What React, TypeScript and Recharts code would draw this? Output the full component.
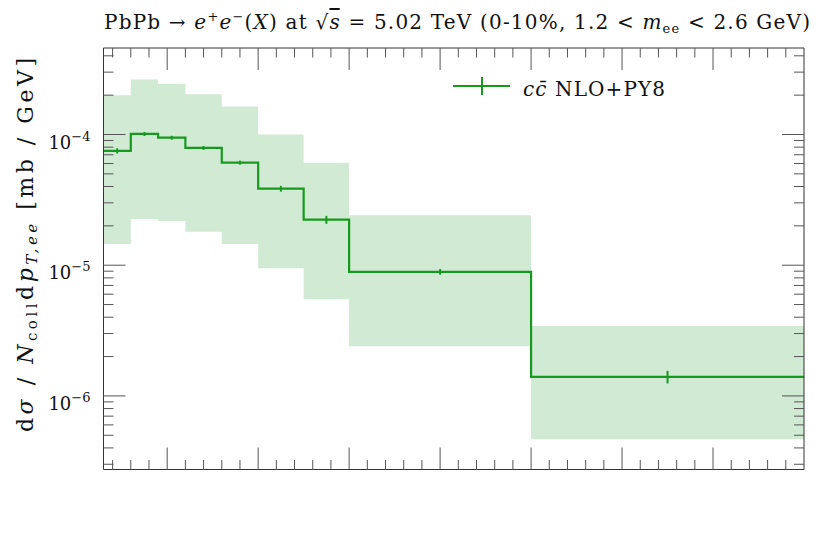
import React from 'react';
import { ComposedChart, Line, Area, Scatter, ErrorBar, XAxis, YAxis } from 'recharts';

const binEdges = [0.3, 0.6, 0.9, 1.2, 1.6, 2.0, 2.5, 3.0, 5.0, 8.0];
const central = [7.5e-5, 1.01e-4, 9.45e-5, 7.9e-5, 6.1e-5, 3.85e-5, 2.23e-5, 8.9e-6, 1.4e-6];
const bandLow = [1.45e-5, 2.26e-5, 2.18e-5, 1.8e-5, 1.45e-5, 9.46e-6, 5.5e-6, 2.4e-6, 4.65e-7];
const bandHigh = [2.0e-4, 2.64e-4, 2.44e-4, 2.03e-4, 1.64e-4, 1.0e-4, 6.08e-5, 2.41e-5, 3.42e-6];
const relErr = [0.045, 0.035, 0.035, 0.035, 0.035, 0.05, 0.07, 0.05, 0.11];

const xTicks = [0.4, 0.6, 0.8, 1, 1.2, 1.4, 1.6, 1.8, 2, 2.2, 2.4, 2.6, 2.8, 3, 3.2, 3.4, 3.6, 3.8, 4, 4.2, 4.4, 4.6, 4.8, 5, 5.2, 5.4, 5.6, 5.8, 6, 6.2, 6.4, 6.6, 6.8, 7, 7.2, 7.4, 7.6, 7.8];
const yTicks = [3e-7, 4e-7, 5e-7, 6e-7, 7e-7, 8e-7, 9e-7, 1e-6, 2e-6, 3e-6, 4e-6, 5e-6, 6e-6, 7e-6, 8e-6, 9e-6, 1e-5, 2e-5, 3e-5, 4e-5, 5e-5, 6e-5, 7e-5, 8e-5, 9e-5, 1e-4, 2e-4, 3e-4, 4e-4];
const xDomain = [0.3, 8];
const yDomain = [2.735e-7, 4.59e-4];

const GREEN = '#17991f';
const BAND = '#d1ead3';
const TICK = '#555';
const FONT = '"DejaVu Serif", "Liberation Serif", serif';

const edgeData = binEdges.map((x, i) => {
  const j = Math.min(i, central.length - 1);
  return { x, y: central[j], band: [bandLow[j], bandHigh[j]] };
});

const pointData = central.map((y, i) => ({
  x: (binEdges[i] + binEdges[i + 1]) / 2,
  y,
  err: y * relErr[i],
}));

const isMajorX = (v: number) => Math.abs(v - Math.round(v)) < 1e-6;
const isMajorY = (v: number) => {
  const l = Math.log10(v);
  return Math.abs(l - Math.round(l)) < 1e-6;
};

const BottomTick = (p: any) => {
  const len = isMajorX(p.payload.value) ? 22 : 9.5;
  return <line x1={p.x} x2={p.x} y1={p.y} y2={p.y - len} stroke={TICK} strokeWidth={1} />;
};
const TopTick = (p: any) => {
  const len = isMajorX(p.payload.value) ? 22 : 9.5;
  return <line x1={p.x} x2={p.x} y1={p.y} y2={p.y + len} stroke={TICK} strokeWidth={1} />;
};
const LeftTick = (p: any) => {
  const v = p.payload.value;
  const major = isMajorY(v);
  const e = Math.round(Math.log10(v));
  return (
    <g>
      <line x1={p.x} x2={p.x + (major ? 22 : 10)} y1={p.y} y2={p.y} stroke={TICK} strokeWidth={1} />
      {major && (
        <text x={p.x - 13} y={p.y + 14} textAnchor="end" fontFamily={FONT} fontSize={18} fill="#111">
          10
          <tspan dy={-8} fontSize={13}>{'\u2212' + String(-e)}</tspan>
        </text>
      )}
    </g>
  );
};
const RightTick = (p: any) => {
  const len = isMajorY(p.payload.value) ? 22 : 10;
  return <line x1={p.x} x2={p.x - len} y1={p.y} y2={p.y} stroke={TICK} strokeWidth={1} />;
};

const axisLine = { stroke: '#333', strokeWidth: 1 };

export default function App() {
  return (
    <div style={{ position: 'absolute', left: 0, top: 0, width: 830, height: 540, background: '#fff' }}>
      <ComposedChart
        width={830}
        height={540}
        data={edgeData}
        margin={{ top: 43, right: 16, bottom: 60.5, left: 43.5 }}
      >
        <XAxis xAxisId="b" dataKey="x" type="number" domain={xDomain} ticks={xTicks} interval={0}
          allowDataOverflow tickSize={0} tickMargin={0} tickLine={false} axisLine={axisLine}
          tick={<BottomTick />} height={10} orientation="bottom" />
        <XAxis xAxisId="t" dataKey="x" type="number" domain={xDomain} ticks={xTicks} interval={0}
          allowDataOverflow tickSize={0} tickMargin={0} tickLine={false} axisLine={axisLine}
          tick={<TopTick />} height={5} orientation="top" />
        <YAxis yAxisId="l" scale="log" type="number" domain={yDomain} ticks={yTicks} interval={0}
          allowDataOverflow tickSize={0} tickMargin={0} tickLine={false} axisLine={axisLine}
          tick={<LeftTick />} width={60} orientation="left" />
        <YAxis yAxisId="r" scale="log" type="number" domain={yDomain} ticks={yTicks} interval={0}
          allowDataOverflow tickSize={0} tickMargin={0} tickLine={false} axisLine={axisLine}
          tick={<RightTick />} width={10} orientation="right" />
        <Area xAxisId="b" yAxisId="l" dataKey="band" type="stepAfter" fill={BAND} fillOpacity={1}
          stroke="none" isAnimationActive={false} dot={false} activeDot={false} />
        <Line xAxisId="b" yAxisId="l" dataKey="y" type="stepAfter" stroke={GREEN} strokeWidth={2.2}
          dot={false} activeDot={false} isAnimationActive={false} />
        <Scatter xAxisId="b" yAxisId="l" data={pointData} dataKey="y" shape={() => <g />}
          isAnimationActive={false}>
          <ErrorBar dataKey="err" direction="y" width={0} stroke={GREEN} strokeWidth={2}
            isAnimationActive={false} />
        </Scatter>
      </ComposedChart>
      <svg width={830} height={540} style={{ position: 'absolute', left: 0, top: 0, pointerEvents: 'none' }}>
        <text x={104} y={29} fontFamily={FONT} fontSize={20} fill="#111" textLength={706} lengthAdjust="spacing">
          PbPb → <tspan fontStyle="italic">e</tspan>
          <tspan dy={-8} fontSize={13}>+</tspan>
          <tspan dy={8} fontStyle="italic">e</tspan>
          <tspan dy={-8} fontSize={13}>−</tspan>
          <tspan dy={8}>(</tspan>
          <tspan fontStyle="italic">X</tspan>) at √<tspan fontStyle="italic" textDecoration="overline">s</tspan> = 5.02 TeV (0-10%, 1.2 &lt; <tspan fontStyle="italic">m</tspan>
          <tspan dy={4} fontSize={13}>ee</tspan>
          <tspan dy={-4}> &lt; 2.6 GeV)</tspan>
        </text>
        <text transform="translate(33,245) rotate(-90)" x={0} y={0} textAnchor="middle" fontFamily={FONT}
          fontSize={22} fill="#111" textLength={374} lengthAdjust="spacing">
          d<tspan fontStyle="italic">σ</tspan> / <tspan fontStyle="italic">N</tspan>
          <tspan dy={4} fontSize={15}>coll</tspan>
          <tspan dy={-4}>d</tspan>
          <tspan fontStyle="italic">p</tspan>
          <tspan dy={4} fontSize={15} fontStyle="italic">T,ee</tspan>
          <tspan dy={-4}> [mb / GeV]</tspan>
        </text>
        <line x1={453} x2={510} y1={86} y2={86} stroke={GREEN} strokeWidth={2} />
        <line x1={482} x2={482} y1={77} y2={95} stroke={GREEN} strokeWidth={2} />
        <text x={523} y={96} fontFamily={FONT} fontSize={20} fill="#111" textLength={142} lengthAdjust="spacing">
          <tspan fontStyle="italic">c</tspan>
          <tspan fontStyle="italic">c̄</tspan> NLO+PY8
        </text>
      </svg>
    </div>
  );
}
